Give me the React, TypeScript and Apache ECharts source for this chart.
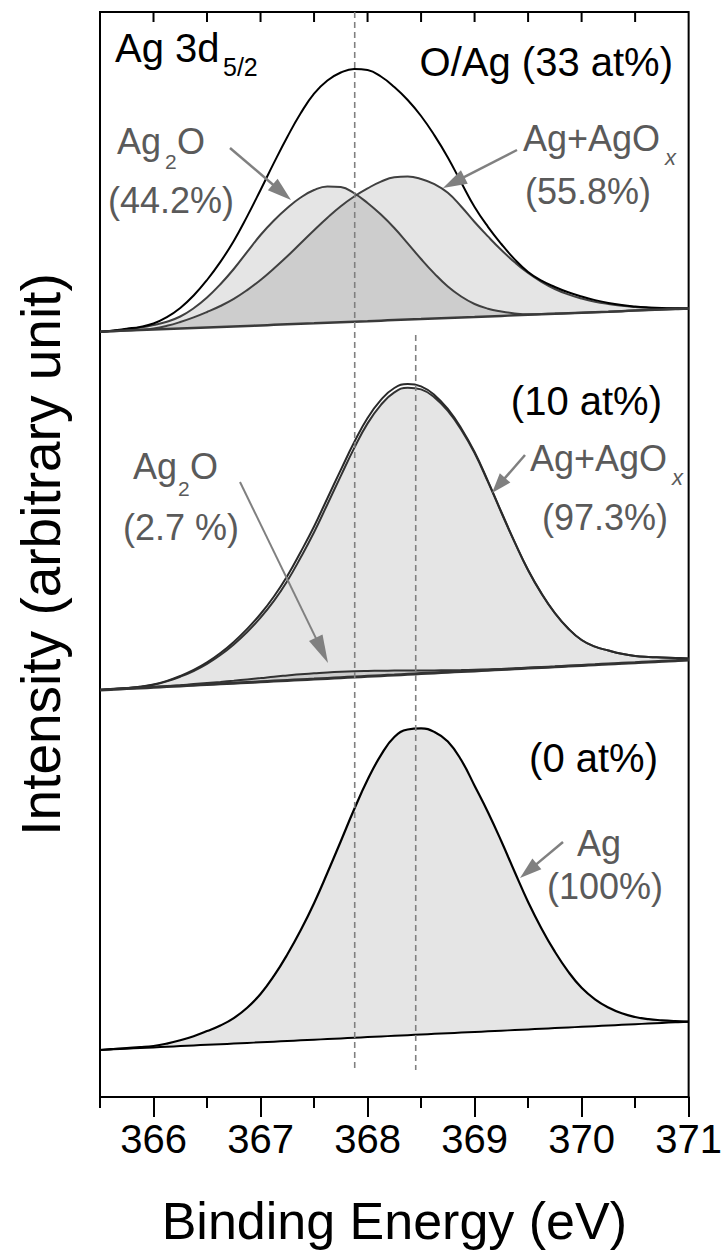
import React, { useEffect, useRef } from "react";
import * as echarts from "echarts";

// ---------- data (binding energy in eV, step 0.125 eV; intensity in arbitrary units) ----------
const energy = [
  365.5, 365.625, 365.75, 365.875, 366.0, 366.125, 366.25, 366.375, 366.5, 366.625, 366.75, 366.875,
  367.0, 367.125, 367.25, 367.375, 367.5, 367.625, 367.75, 367.875, 368.0, 368.125, 368.25, 368.375,
  368.5, 368.625, 368.75, 368.875, 369.0, 369.125, 369.25, 369.375, 369.5, 369.625, 369.75, 369.875,
  370.0, 370.125, 370.25, 370.375, 370.5, 370.625, 370.75, 370.875, 371.0,
];

// O/Ag 33 at%
const topBaseline = [765.3, 765.85, 766.4, 766.9, 767.4, 767.95, 768.5, 769.0, 769.5, 770.05, 770.6, 771.1, 771.6, 772.15, 772.7, 773.2, 773.7, 774.25, 774.8, 775.3, 775.8, 776.35, 776.9, 777.4, 777.9, 778.45, 779.0, 779.5, 780.0, 780.55, 781.1, 781.65, 782.2, 782.7, 783.2, 783.75, 784.3, 784.8, 785.3, 785.85, 786.4, 786.9, 787.4, 787.95, 788.5];
const topEnvelope = [765.3, 766.5, 768.3, 770.1, 773.5, 779.8, 789, 801.5, 817, 835.1, 856, 880.6, 907, 934.1, 960, 983.7, 1003.4, 1016.5, 1024.5, 1028.1, 1027, 1020.5, 1010, 997.0, 981, 961.6, 939.6, 914.5, 890, 870.2, 853, 837.6, 825, 816.3, 810, 804.7, 800.5, 796.9, 794, 791.9, 790.5, 789.6, 789, 788.7, 788.5];
const topAg2O = [765.3, 766.3, 767.5, 769.4, 772, 775.3, 780.5, 788.75, 799.5, 812.8, 828, 845.1, 862, 876.5, 889, 899.5, 907, 910.6, 910, 903.75, 894, 882.4, 869, 853.7, 838, 823.4, 810.5, 800.5, 793, 788.3, 785.5, 783.6, 782.7, 783.0, 783.4, 783.8, 784.3, 784.8, 785.3, 785.85, 786.4, 786.9, 787.4, 787.95, 788.5];
const topAgOx = [765.3, 765.9, 766.6, 767.2, 768.5, 771.2, 775, 779.6, 785, 791.0, 798.1, 806.9, 817, 828.5, 840.7, 853.7, 866.8, 879.3, 890.8, 900.5, 908.6, 915.4, 919.7, 920.4, 918, 912.8, 904.2, 890.5, 875, 860.6, 847, 834.75, 824, 815.2, 808, 802.6, 798.5, 795.3, 793, 791.2, 790, 789.2, 788.7, 788.6, 788.6];

// O/Ag 10 at%
const midBaseline = [407.0, 407.7, 408.4, 409.05, 409.7, 410.4, 411.1, 411.8, 412.5, 413.15, 413.8, 414.5, 415.2, 415.9, 416.6, 417.25, 417.9, 418.6, 419.3, 420.0, 420.7, 421.35, 422.0, 422.7, 423.4, 424.1, 424.8, 425.45, 426.1, 426.8, 427.5, 428.2, 428.9, 429.55, 430.2, 430.9, 431.6, 432.3, 433.0, 433.65, 434.3, 435.0, 435.7, 436.35, 437.0];
const midEnvelope = [407, 407.9, 409, 410.3, 412.5, 416.1, 421, 427.05, 434.6, 443.95, 455.1, 468.1, 483, 500.5, 521, 545, 570.5, 598.8, 627.1, 654.7, 679, 697.1, 709, 713.1, 710.7, 702.1, 688, 668.8, 645, 615.9, 585, 554.9, 527, 503.6, 484, 468.5, 457, 450.4, 446.5, 443.2, 441, 440.0, 439.5, 439.0, 438.5];
const midAg2O = [407.0, 407.7, 408.5, 409.2, 410.0, 410.85, 411.8, 412.9, 414.0, 415.1, 416.3, 417.6, 418.9, 420.35, 421.6, 422.8, 423.7, 424.6, 425.3, 425.8, 426.1, 426.3, 426.4, 426.45, 426.5, 426.6, 426.7, 426.9, 427.2, 427.6, 428.0, 428.5, 429.1, 429.7, 430.3, 430.95, 431.6, 432.3, 433.0, 433.65, 434.3, 435.0, 435.7, 436.35, 437.0];
const midAgOx = [407, 407.9, 408.9, 410.15, 412.2, 415.65, 420.3, 425.95, 433.1, 442.0, 452.6, 465.0, 479.3, 496.05, 516, 539.45, 564.7, 592.8, 621.1, 648.9, 673.6, 692.15, 704.6, 709.35, 707.6, 699.6, 686.1, 667.35, 643.9, 615.1, 584.5, 554.6, 526.8, 503.45, 483.9, 468.45, 457, 450.4, 446.5, 443.2, 441, 440.0, 439.5, 439.0, 438.5];

// O/Ag 0 at%
const botBaseline = [47.0, 47.65, 48.3, 48.95, 49.6, 50.25, 50.9, 51.55, 52.2, 52.8, 53.4, 54.05, 54.7, 55.35, 56.0, 56.65, 57.3, 57.95, 58.6, 59.25, 59.9, 60.55, 61.2, 61.85, 62.5, 63.15, 63.8, 64.4, 65.0, 65.65, 66.3, 66.95, 67.6, 68.25, 68.9, 69.55, 70.2, 70.85, 71.5, 72.15, 72.8, 73.45, 74.1, 74.7, 75.3];
const botAg = [47, 48.0, 49, 49.8, 51, 53.4, 56.7, 60.8, 65.9, 71.5, 78.9, 89.3, 103, 121.05, 142.5, 166.7, 193.8, 224.2, 255.8, 287.7, 317.2, 341.9, 360, 367.5, 368.6, 365, 355.5, 337, 311.3, 284.8, 255.8, 225.0, 195, 168.6, 145.3, 125.4, 109.2, 97.7, 89.5, 83.7, 80, 77.8, 76.7, 75.9, 75.3];

// reference peak positions (dashed lines) and their vertical extent
const peakLines = [367.88, 368.45];
const peakLineTop = [1085, 762];
const peakLineBottom = [25, 27];

// axis ticks
const Y_MAX = 1085;
const majorTicks = [366, 367, 368, 369, 370, 371];
const minorTicks = [365.5, 366.5, 367.5, 368.5, 369.5, 370.5];
const topTicks = [366, 366.5, 367, 367.5, 368, 368.5, 369, 369.5, 370, 370.5];

const FONT = "'Liberation Sans', Arial, Helvetica, sans-serif";
const GRAY_TXT = "#5a5a5a";
const ARROW = "#808080";
const FILL = "rgba(0,0,0,0.10)";
const SMOOTH = 0.45;

const pts = (ys: number[]) => energy.map((e, i) => [e, ys[i]]);
// stacked series: intensity first so that it is the stacked dimension
const stackPts = (ys: number[]) => energy.map((e, i) => [ys[i], e]);
const stackDiff = (a: number[], b: number[]) => energy.map((e, i) => [a[i] - b[i], e]);

function line(name: string, ys: number[], color: string, width: number, extra: any = {}) {
  return {
    type: "line", name, data: pts(ys), symbol: "none", smooth: SMOOTH, silent: true,
    lineStyle: { color, width }, ...extra,
  };
}

function filledComponent(name: string, comp: number[], base: number[], stack: string, color: string, width: number) {
  return [
    {
      type: "line", name: name + " base", stack, data: stackPts(base), encode: { x: 1, y: 0 },
      symbol: "none", smooth: SMOOTH, silent: true, lineStyle: { opacity: 0, width: 0 },
    },
    {
      type: "line", name, stack, data: stackDiff(comp, base), encode: { x: 1, y: 0 },
      symbol: "none", smooth: SMOOTH, silent: true,
      lineStyle: { color, width }, areaStyle: { color: FILL, opacity: 1 },
    },
  ];
}

function arrow(sx: number, sy: number, tx: number, ty: number, head = 24, half = 7.5, width = 2.5) {
  const dx = tx - sx, dy = ty - sy;
  const len = Math.hypot(dx, dy);
  const ux = dx / len, uy = dy / len;
  const bx = tx - ux * head, by = ty - uy * head;
  const nx = -uy, ny = ux;
  return [
    { type: "line", shape: { x1: sx, y1: sy, x2: bx + ux * 2, y2: by + uy * 2 }, style: { stroke: ARROW, lineWidth: width }, z: 100 },
    {
      type: "polygon",
      shape: { points: [[tx, ty], [bx + nx * half, by + ny * half], [bx - nx * half, by - ny * half]] },
      style: { fill: ARROW }, z: 100,
    },
  ];
}

function txt(text: string, x: number, y: number, size: number, color: string, align = "left", extra: any = {}) {
  return {
    type: "text", x, y, z: 100,
    style: { text, fontSize: size, fontFamily: FONT, fill: color, align, verticalAlign: "middle", ...extra },
  };
}

export default function App() {
  const ref = useRef<HTMLDivElement>(null);

  useEffect(() => {
    const chart = echarts.init(ref.current!, null, { renderer: "svg" });

    const xCommon = { type: "value", min: 365.5, max: 371, splitLine: { show: false } };

    const series: any[] = [
      ...filledComponent("Ag2O (44.2%)", topAg2O, topBaseline, "t1", "#404040", 2),
      ...filledComponent("Ag+AgOx (55.8%)", topAgOx, topBaseline, "t2", "#404040", 2),
      line("Envelope 33 at%", topEnvelope, "#000", 2),
      line("Background 33 at%", topBaseline, "#3a3a3a", 2.5),

      ...filledComponent("Ag2O (2.7%)", midAg2O, midBaseline, "m1", "#333", 2),
      ...filledComponent("Ag+AgOx (97.3%)", midAgOx, midBaseline, "m2", "#333", 2),
      line("Envelope 10 at%", midEnvelope, "#2a2a2a", 2),
      line("Background 10 at%", midBaseline, "#333", 3),

      ...filledComponent("Ag (100%)", botAg, botBaseline, "b1", "#000", 2.2),
      line("Background 0 at%", botBaseline, "#000", 2),
    ];

    peakLines.forEach((e, i) => {
      series.push({
        type: "line", name: "peak " + e, data: [[e, peakLineTop[i]], [e, peakLineBottom[i]]],
        symbol: "none", silent: true, z: 5,
        lineStyle: { color: "#808080", width: 1.6, type: [6, 4] },
      });
    });

    // inward ticks along the top frame, placed through the x scale
    series.push({
      type: "custom", name: "top ticks", silent: true, z: 20, clip: false,
      data: topTicks.map((v) => [v, Y_MAX]),
      encode: { x: 0, y: 1 },
      renderItem: (params: any, api: any) => {
        const p = api.coord([api.value(0), api.value(1)]);
        return {
          type: "line",
          shape: { x1: p[0], y1: p[1], x2: p[0], y2: p[1] + 10 },
          style: { stroke: "#000", lineWidth: 2 },
        };
      },
    });

    const graphic: any[] = [
      // header
      txt("Ag 3d", 115, 48, 40, "#000"),
      txt("5/2", 223, 67, 25, "#000"),
      txt("O/Ag (33 at%)", 673, 62, 40, "#000", "right"),
      // top labels
      txt("Ag", 117, 141.5, 36, GRAY_TXT),
      txt("2", 165, 161, 21, GRAY_TXT),
      txt("O", 177, 141.5, 36, GRAY_TXT),
      txt("(44.2%)", 108, 200, 36, GRAY_TXT),
      txt("Ag+AgO", 523, 138.5, 36, GRAY_TXT),
      txt("x", 665, 157, 22, GRAY_TXT, "left", { fontStyle: "italic" }),
      txt("(55.8%)", 525, 191.5, 36, GRAY_TXT),
      ...arrow(230, 148, 291, 200),
      ...arrow(517, 150, 443, 188),
      // middle labels
      txt("(10 at%)", 662, 401, 40, "#000", "right"),
      txt("Ag+AgO", 530, 458, 36, GRAY_TXT),
      txt("x", 672, 477.5, 22, GRAY_TXT, "left", { fontStyle: "italic" }),
      txt("(97.3%)", 542, 517, 36, GRAY_TXT),
      txt("Ag", 133, 466.5, 36, GRAY_TXT),
      txt("2", 178, 488, 21, GRAY_TXT),
      txt("O", 190, 466.5, 36, GRAY_TXT),
      txt("(2.7 %)", 123, 527.5, 36, GRAY_TXT),
      ...arrow(525, 455, 492, 493, 20, 7),
      ...arrow(240, 482, 328, 663, 28, 7.5, 2),
      // bottom labels
      txt("(0 at%)", 658, 757.5, 40, "#000", "right"),
      txt("Ag", 577, 843, 36, GRAY_TXT),
      txt("(100%)", 547, 886, 36, GRAY_TXT),
      ...arrow(563, 842, 520, 878, 22, 7),
    ];

    chart.setOption({
      animation: false,
      backgroundColor: "#fff",
      grid: { left: 100, right: 36, top: 12, bottom: 161, show: true, borderColor: "#000", borderWidth: 2, backgroundColor: "transparent" },
      xAxis: [
        {
          ...xCommon, position: "bottom",
          name: "Binding Energy (eV)", nameLocation: "middle", nameGap: 98,
          nameTextStyle: { fontSize: 52, fontFamily: FONT, color: "#000" },
          axisLine: { show: true, onZero: false, lineStyle: { color: "#000", width: 2 } },
          axisTick: { show: true, customValues: majorTicks, length: 20, inside: false, lineStyle: { color: "#000", width: 2 } },
          axisLabel: { show: true, customValues: majorTicks, fontSize: 40, fontFamily: FONT, color: "#000", margin: 22 },
        },
        {
          ...xCommon, position: "bottom",
          axisLine: { show: false, onZero: false },
          axisTick: { show: true, customValues: minorTicks, length: 11, inside: false, lineStyle: { color: "#000", width: 2 } },
          axisLabel: { show: false },
        },
      ],
      yAxis: {
        type: "value", min: 0, max: Y_MAX,
        name: "Intensity (arbitrary unit)", nameLocation: "middle", nameGap: 32, nameRotate: 90,
        nameTextStyle: { fontSize: 55, fontFamily: FONT, color: "#000" },
        axisLine: { show: true, onZero: false, lineStyle: { color: "#000", width: 2 } },
        axisTick: { show: false }, axisLabel: { show: false }, splitLine: { show: false },
      },
      series,
      graphic,
    });

    return () => chart.dispose();
  }, []);

  return (
    <div
      ref={ref}
      style={{ position: "absolute", left: 0, top: 0, width: 725, height: 1258, background: "#fff" }}
    />
  );
}
